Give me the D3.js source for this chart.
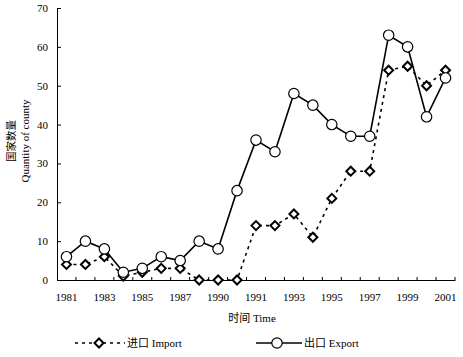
<!DOCTYPE html>
<html>
<head>
<meta charset="utf-8">
<script src="https://cdn.jsdelivr.net/npm/d3@7"></script>
<style>
  body { margin: 0; background: #fff; }
  text { font-family: "Liberation Serif", "Noto Sans CJK SC", serif; fill: #000; }
</style>
</head>
<body>
<div id="chart"></div>
<script>
var years = d3.range(1981, 2002);
var exportVals = [6, 10, 8, 2, 3, 6, 5, 10, 8, 23, 36, 33, 48, 45, 40, 37, 37, 63, 60, 42, 52];
var importVals = [4, 4, 6, 1, 2, 3, 3, 0, 0, 0, 14, 14, 17, 11, 21, 28, 28, 54, 55, 50, 54];
var tickYears = [1981, 1983, 1985, 1987, 1989, 1991, 1993, 1995, 1997, 1999, 2001];
var tickLabels = ["1981", "1983", "1985", "1987", "1990", "1991", "1993", "1995", "1997", "1999", "2001"];
var yTicks = [0, 10, 20, 30, 40, 50, 60, 70];

var width = 463, height = 357;

var svg = d3.select("#chart").append("svg")
  .attr("width", width)
  .attr("height", height);

var x = d3.scaleBand().domain(years).range([57, 455]).padding(0);
var y = d3.scaleLinear().domain([0, 70]).range([280, 8]);
var cx = function(d, i) { return x(years[i]) + x.bandwidth() / 2; };

// y axis, ticks pointing inward
var yAxis = svg.append("g")
  .attr("transform", "translate(57,0)")
  .call(d3.axisLeft(y).tickValues(yTicks).tickSizeInner(-4).tickSizeOuter(0).tickPadding(9));
yAxis.selectAll("text").style("font-size", "11px").attr("font-family", null);

// x axis: labels under every other year, ticks on band edges
var xAxis = svg.append("g")
  .attr("transform", "translate(0,280)")
  .call(d3.axisBottom(x).tickValues(tickYears).tickSize(0).tickPadding(13)
    .tickFormat(function(d) { return tickLabels[tickYears.indexOf(d)]; }));
xAxis.selectAll("text").style("font-size", "11px").attr("font-family", null);

svg.append("g").selectAll("line")
  .data(years)
  .enter().append("line")
  .attr("x1", function(d) { return x(d) + x.bandwidth(); })
  .attr("x2", function(d) { return x(d) + x.bandwidth(); })
  .attr("y1", 280).attr("y2", 277)
  .attr("stroke", "#000");

svg.selectAll(".domain").attr("stroke", "#000");

// lines
var lineOf = d3.line().x(cx).y(function(d) { return y(d); });

svg.append("path")
  .datum(importVals)
  .attr("d", lineOf)
  .attr("fill", "none")
  .attr("stroke", "#000")
  .attr("stroke-width", 1.6)
  .attr("stroke-dasharray", "3,4");

svg.append("path")
  .datum(exportVals)
  .attr("d", lineOf)
  .attr("fill", "none")
  .attr("stroke", "#000")
  .attr("stroke-width", 1.6);

var diamond = "M0,-4.5L4.5,0L0,4.5L-4.5,0Z";

svg.append("g").selectAll("path")
  .data(importVals)
  .enter().append("path")
  .attr("d", diamond)
  .attr("transform", function(d, i) { return "translate(" + cx(d, i) + "," + y(d) + ")"; })
  .attr("fill", "#fff")
  .attr("stroke", "#000")
  .attr("stroke-width", 2);

svg.append("g").selectAll("circle")
  .data(exportVals)
  .enter().append("circle")
  .attr("cx", cx)
  .attr("cy", function(d) { return y(d); })
  .attr("r", 5.2)
  .attr("fill", "#fff")
  .attr("stroke", "#000")
  .attr("stroke-width", 1.2);

// axis titles
var yTitle = svg.append("g").attr("transform", "translate(0,141) rotate(-90)");
yTitle.append("text")
  .attr("x", 0).attr("y", 11)
  .attr("text-anchor", "middle")
  .attr("dominant-baseline", "central")
  .style("font-size", "10.5px")
  .text("国家数量");
yTitle.append("text")
  .attr("x", 0).attr("y", 25)
  .attr("text-anchor", "middle")
  .attr("dominant-baseline", "central")
  .style("font-size", "11px")
  .text("Quantity of county");

svg.append("text")
  .attr("x", 252).attr("y", 322)
  .attr("text-anchor", "middle")
  .style("font-size", "11px")
  .text("时间 Time");

// legend
var legend = svg.append("g").attr("transform", "translate(0,343)");

legend.append("line")
  .attr("x1", 75).attr("x2", 125).attr("y1", 0).attr("y2", 0)
  .attr("stroke", "#000").attr("stroke-width", 1.6).attr("stroke-dasharray", "3,4");
legend.append("path")
  .attr("d", diamond)
  .attr("transform", "translate(99,0)")
  .attr("fill", "#fff").attr("stroke", "#000").attr("stroke-width", 2);
legend.append("text")
  .attr("x", 127).attr("y", 4)
  .style("font-size", "11px")
  .text("进口 Import");

legend.append("line")
  .attr("x1", 256).attr("x2", 302).attr("y1", 0).attr("y2", 0)
  .attr("stroke", "#000").attr("stroke-width", 1.6);
legend.append("circle")
  .attr("cx", 277).attr("cy", 0).attr("r", 5.2)
  .attr("fill", "#fff").attr("stroke", "#000").attr("stroke-width", 1.2);
legend.append("text")
  .attr("x", 304).attr("y", 4)
  .style("font-size", "11px")
  .text("出口 Export");
</script>
</body>
</html>
